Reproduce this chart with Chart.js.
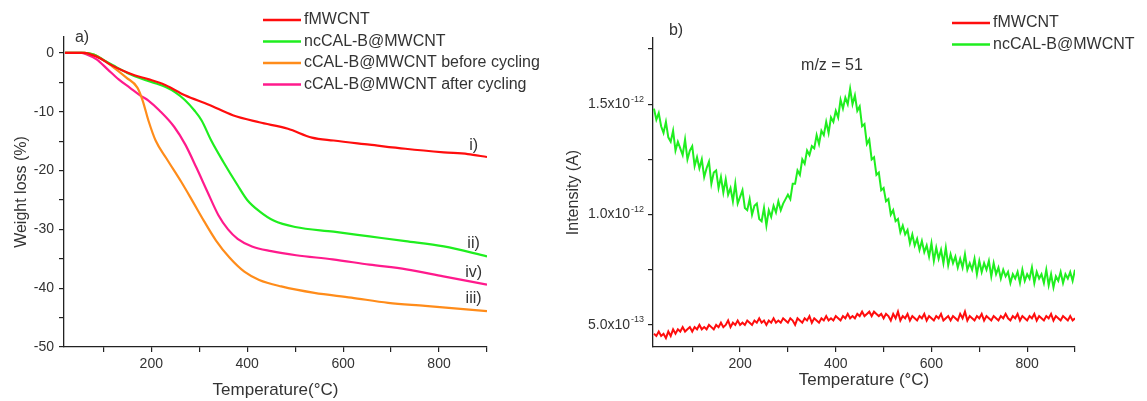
<!DOCTYPE html>
<html lang="en">
<head>
<meta charset="UTF-8">
<title>TGA / MS</title>
<script src="https://cdn.jsdelivr.net/npm/chart.js"></script>
<style>
  body { margin: 0; background: #fff; }
  #wrap { position: relative; width: 1147px; height: 401px; }
  canvas { position: absolute; top: 0; }
  #tgaChart { left: 0; }
  #msChart { left: 555px; }
</style>
</head>
<body>
<div id="wrap">
<canvas id="tgaChart" width="555" height="401"></canvas>
<canvas id="msChart" width="592" height="401"></canvas>
</div>
<script>
// ---- panel a) weight loss (%) vs temperature
const tRed = [20, 60, 75, 95, 115, 140, 165, 195, 230, 270, 320, 370, 425, 485, 535, 580, 655, 730, 810, 860, 900];
const wRed = [0, 0, -0.3, -1.0, -2.0, -3.0, -3.8, -4.5, -5.5, -7.2, -8.8, -10.6, -11.8, -12.9, -14.4, -14.9, -15.6, -16.3, -16.9, -17.2, -17.7];

const tGreen = [20, 60, 80, 100, 120, 150, 180, 210, 230, 250, 270, 290, 305, 325, 350, 380, 400, 425, 455, 500, 580, 655, 730, 810, 900];
const wGreen = [0, 0, -0.3, -1.2, -2.1, -3.4, -4.4, -5.2, -5.8, -6.7, -8.0, -9.8, -11.5, -14.9, -18.5, -22.5, -25.0, -26.9, -28.5, -29.6, -30.4, -31.2, -32.0, -32.9, -34.6];

const tOrange = [20, 60, 80, 100, 117, 148, 171, 182, 194, 209, 232, 263, 286, 310, 335, 363, 394, 425, 471, 540, 617, 694, 771, 900];
const wOrange = [0, 0, -0.3, -1.2, -2.2, -4.2, -5.9, -8.1, -11.5, -14.9, -18.0, -22.0, -25.2, -28.6, -31.9, -34.8, -37.2, -38.6, -39.7, -40.8, -41.6, -42.5, -43.0, -43.9];

const tPink = [20, 55, 63, 86, 109, 132, 155, 178, 194, 217, 248, 271, 294, 317, 340, 360, 380, 410, 450, 502, 578, 655, 732, 809, 900];
const wPink = [0, 0, -0.2, -1.1, -2.8, -4.5, -5.9, -7.3, -8.1, -9.8, -12.6, -15.6, -19.5, -23.6, -27.6, -30.0, -31.6, -32.9, -33.7, -34.4, -35.1, -36.0, -36.8, -38.0, -39.4];

const namesA = ['fMWCNT', 'ncCAL-B@MWCNT', 'cCAL-B@MWCNT before cycling', 'cCAL-B@MWCNT after cycling'];
const tagsA = ['i)', 'ii)', 'iii)', 'iv)'];
const tagW = [-15.8, -32.4, -41.7, -37.3];
const tagT = 872;

// ---- panel b) m/z = 51 intensity (x1e-12 A) vs temperature
const tempsB = [
  20, 25, 30, 35, 40, 45, 50, 55, 60, 65,
  70, 75, 80, 85, 90, 95, 100, 105, 110, 115,
  120, 125, 130, 135, 140, 145, 150, 155, 160, 165,
  170, 175, 180, 185, 190, 195, 200, 205, 210, 215,
  220, 225, 230, 235, 240, 245, 250, 255, 260, 265,
  270, 275, 280, 285, 290, 295, 300, 305, 310, 315,
  320, 325, 330, 335, 340, 345, 350, 355, 360, 365,
  370, 375, 380, 385, 390, 395, 400, 405, 410, 415,
  420, 425, 430, 435, 440, 445, 450, 455, 460, 465,
  470, 475, 480, 485, 490, 495, 500, 505, 510, 515,
  520, 525, 530, 535, 540, 545, 550, 555, 560, 565,
  570, 575, 580, 585, 590, 595, 600, 605, 610, 615,
  620, 625, 630, 635, 640, 645, 650, 655, 660, 665,
  670, 675, 680, 685, 690, 695, 700, 705, 710, 715,
  720, 725, 730, 735, 740, 745, 750, 755, 760, 765,
  770, 775, 780, 785, 790, 795, 800, 805, 810, 815,
  820, 825, 830, 835, 840, 845, 850, 855, 860, 865,
  870, 875, 880, 885, 890, 895, 900
];
const msGreen = [
  1.48, 1.43, 1.46, 1.40, 1.37, 1.42, 1.35, 1.33, 1.38, 1.29,
  1.33, 1.30, 1.27, 1.34, 1.25, 1.29, 1.31, 1.22, 1.26, 1.21,
  1.25, 1.17, 1.21, 1.24, 1.14, 1.19, 1.20, 1.12, 1.17, 1.10,
  1.16, 1.09, 1.12, 1.06, 1.14, 1.05, 1.08, 1.11, 1.03, 1.02,
  1.07, 1.00, 1.04, 1.05, 0.98, 0.97, 1.03, 0.95, 1.02, 0.99,
  1.04, 1.01, 1.06, 1.02, 1.05, 1.07, 1.09, 1.07, 1.14, 1.14,
  1.20, 1.18, 1.25, 1.23, 1.29, 1.27, 1.31, 1.30, 1.36, 1.32,
  1.38, 1.36, 1.42, 1.37, 1.44, 1.42, 1.47, 1.44, 1.52, 1.48,
  1.53, 1.50, 1.57, 1.50, 1.54, 1.47, 1.49, 1.40, 1.41, 1.32,
  1.34, 1.25, 1.26, 1.18, 1.19, 1.11, 1.12, 1.06, 1.07, 1.00,
  1.02, 0.97, 0.98, 0.92, 0.95, 0.91, 0.93, 0.87, 0.91, 0.86,
  0.89, 0.84, 0.88, 0.83, 0.86, 0.81, 0.87, 0.79, 0.85, 0.80,
  0.84, 0.78, 0.85, 0.77, 0.82, 0.78, 0.81, 0.76, 0.80, 0.76,
  0.82, 0.75, 0.78, 0.75, 0.80, 0.73, 0.79, 0.74, 0.78, 0.75,
  0.79, 0.72, 0.78, 0.73, 0.76, 0.71, 0.75, 0.72, 0.74, 0.69,
  0.73, 0.71, 0.74, 0.69, 0.75, 0.70, 0.73, 0.71, 0.76, 0.69,
  0.74, 0.71, 0.73, 0.69, 0.75, 0.68, 0.73, 0.67, 0.72, 0.70,
  0.74, 0.69, 0.73, 0.71, 0.74, 0.70, 0.75
];
const msRed = [
  0.46, 0.45, 0.47, 0.45, 0.46, 0.44, 0.47, 0.45, 0.48, 0.46,
  0.48, 0.47, 0.49, 0.47, 0.48, 0.49, 0.47, 0.49, 0.48, 0.50,
  0.48, 0.49, 0.48, 0.50, 0.49, 0.48, 0.50, 0.49, 0.51, 0.49,
  0.50, 0.52, 0.49, 0.51, 0.50, 0.52, 0.50, 0.51, 0.50, 0.52,
  0.51, 0.50, 0.52, 0.51, 0.53, 0.51, 0.52, 0.50, 0.52, 0.51,
  0.53, 0.51, 0.52, 0.51, 0.53, 0.52, 0.51, 0.53, 0.52, 0.50,
  0.53, 0.52, 0.51, 0.53, 0.52, 0.54, 0.51, 0.53, 0.52, 0.51,
  0.53, 0.52, 0.54, 0.52, 0.53, 0.52, 0.54, 0.53, 0.52, 0.54,
  0.53, 0.55, 0.53, 0.54, 0.53, 0.55, 0.54, 0.56, 0.54, 0.55,
  0.56, 0.54, 0.56, 0.55, 0.54, 0.55, 0.53, 0.55, 0.54, 0.52,
  0.55, 0.53, 0.56, 0.52, 0.54, 0.53, 0.55, 0.52, 0.54, 0.53,
  0.52, 0.54, 0.53, 0.55, 0.52, 0.54, 0.53, 0.52, 0.54, 0.53,
  0.55, 0.52, 0.53, 0.54, 0.52, 0.54, 0.53, 0.52, 0.55, 0.53,
  0.56, 0.52, 0.54, 0.53, 0.52, 0.54, 0.53, 0.55, 0.52, 0.54,
  0.53, 0.52, 0.54, 0.53, 0.52, 0.54, 0.53, 0.55, 0.53, 0.52,
  0.54, 0.53, 0.55, 0.52, 0.54, 0.53, 0.52, 0.54, 0.53, 0.55,
  0.52, 0.54, 0.53, 0.52, 0.54, 0.53, 0.55, 0.52, 0.54, 0.53,
  0.52, 0.54, 0.53, 0.52, 0.54, 0.52, 0.53
];
const namesB = ['fMWCNT', 'ncCAL-B@MWCNT'];

const tempTicks = [100, 200, 300, 400, 500, 600, 700, 800, 900];
const weightTicks = [-50, -45, -40, -35, -30, -25, -20, -15, -10, -5, 0];
const msTicks = [0.5, 0.75, 1.0, 1.25, 1.5, 1.75];
const msTickText = { 0.5: ['5.0x10', '-13'], 1.0: ['1.0x10', '-12'], 1.5: ['1.5x10', '-12'] };

const RED = '#ff0d0d', GREEN = '#1fee1f', ORANGE = '#ff8c1a', PINK = '#ff1a8c';
const INK = '#333', AXIS = '#222';
const FONT = '"Liberation Sans", Arial, sans-serif';
Chart.defaults.font.family = FONT;
Chart.defaults.color = INK;

const pts = (xs, ys) => xs.map((x, i) => ({ x: x, y: ys[i] }));

function tempAxis(title, titlePad) {
  return {
    type: 'linear', min: 18, max: 900,
    afterFit: s => { s.height = 54; },
    afterBuildTicks: s => { s.ticks = tempTicks.map(v => ({ value: v })); },
    ticks: { callback: v => (v % 200 === 0 && v < 900 ? v : ''), autoSkip: false, maxRotation: 0, padding: 4, font: { size: 14 }, color: INK },
    grid: { drawOnChartArea: false, tickLength: 5, color: AXIS, lineWidth: 1.2 },
    border: { color: AXIS, width: 1.3 },
    title: { display: true, text: title, font: { size: 17 }, color: INK, padding: { top: 0, bottom: titlePad } }
  };
}

function drawLegend(ctx, names, colors, x0, y0, dy) {
  ctx.font = '16px ' + FONT;
  ctx.textAlign = 'left';
  ctx.textBaseline = 'middle';
  names.forEach((n, i) => {
    const y = y0 + i * dy;
    ctx.strokeStyle = colors[i];
    ctx.lineWidth = 2.5;
    ctx.beginPath();
    ctx.moveTo(x0, y);
    ctx.lineTo(x0 + 38, y);
    ctx.stroke();
    ctx.fillStyle = INK;
    ctx.fillText(n, x0 + 41, y);
  });
}

const notesA = {
  id: 'notesA',
  afterDraw(chart) {
    const ctx = chart.ctx, xs = chart.scales.x, ys = chart.scales.y;
    ctx.save();
    ctx.fillStyle = INK;
    ctx.font = '16px ' + FONT;
    ctx.textAlign = 'center';
    ctx.textBaseline = 'middle';
    tagsA.forEach((t, i) => ctx.fillText(t, xs.getPixelForValue(tagT), ys.getPixelForValue(tagW[i])));
    ctx.fillText('a)', 82, 38);
    drawLegend(ctx, namesA, [RED, GREEN, ORANGE, PINK], 263, 20, 21.5);
    ctx.restore();
  }
};

const notesB = {
  id: 'notesB',
  afterDraw(chart) {
    const ctx = chart.ctx, ys = chart.scales.y;
    ctx.save();
    ctx.fillStyle = INK;
    ctx.textBaseline = 'middle';
    // y tick labels with superscript exponent
    const xr = ys.right - 9;
    Object.keys(msTickText).forEach(k => {
      const y = ys.getPixelForValue(Number(k));
      const [m, e] = msTickText[k];
      ctx.font = '9px ' + FONT;
      ctx.textAlign = 'right';
      ctx.fillText(e, xr, y - 5);
      const ew = ctx.measureText(e).width;
      ctx.font = '14px ' + FONT;
      ctx.fillText(m, xr - ew - 1, y);
    });
    ctx.font = '16px ' + FONT;
    ctx.textAlign = 'center';
    ctx.fillText('b)', 121, 31);
    ctx.fillText('m/z = 51', 277, 66);
    drawLegend(ctx, namesB, [RED, GREEN], 397, 23, 21.5);
    ctx.restore();
  }
};

new Chart(document.getElementById('tgaChart'), {
  type: 'line',
  data: {
    datasets: [
      { label: namesA[0], data: pts(tRed, wRed), borderColor: RED },
      { label: namesA[1], data: pts(tGreen, wGreen), borderColor: GREEN },
      { label: namesA[2], data: pts(tOrange, wOrange), borderColor: ORANGE },
      { label: namesA[3], data: pts(tPink, wPink), borderColor: PINK }
    ]
  },
  options: {
    responsive: false,
    animation: false,
    layout: { padding: { left: 0, top: 37, right: 68, bottom: 0 } },
    elements: { point: { radius: 0 }, line: { borderWidth: 2.2, cubicInterpolationMode: 'monotone' } },
    plugins: { legend: { display: false }, tooltip: { enabled: false } },
    scales: {
      x: tempAxis('Temperature(°C)', 0),
      y: {
        type: 'linear', min: -50, max: 2.7,
        afterFit: s => { s.width = 64; },
        afterBuildTicks: s => { s.ticks = weightTicks.map(v => ({ value: v })); },
        ticks: { callback: v => (v % 10 === 0 ? v : ''), autoSkip: false, padding: 5, font: { size: 14 }, color: INK },
        grid: { drawOnChartArea: false, tickLength: 5, color: AXIS, lineWidth: 1.2 },
        border: { color: AXIS, width: 1.3 },
        title: { display: true, text: 'Weight loss (%)', font: { size: 16 }, color: INK, padding: { top: 12, bottom: 0 } }
      }
    }
  },
  plugins: [notesA]
});

new Chart(document.getElementById('msChart'), {
  type: 'line',
  data: {
    datasets: [
      { label: namesB[0], data: pts(tempsB, msRed), borderColor: RED },
      { label: namesB[1], data: pts(tempsB, msGreen), borderColor: GREEN }
    ]
  },
  options: {
    responsive: false,
    animation: false,
    layout: { padding: { left: 0, top: 38, right: 72, bottom: 0 } },
    elements: { point: { radius: 0 }, line: { borderWidth: 2, tension: 0 } },
    plugins: { legend: { display: false }, tooltip: { enabled: false } },
    scales: {
      x: tempAxis('Temperature (°C)', 10),
      y: {
        type: 'linear', min: 0.4, max: 1.8,
        afterFit: s => { s.width = 98; },
        afterBuildTicks: s => { s.ticks = msTicks.map(v => ({ value: v })); },
        ticks: { callback: () => '', autoSkip: false },
        grid: { drawOnChartArea: false, tickLength: 5, color: AXIS, lineWidth: 1.2 },
        border: { color: AXIS, width: 1.3 },
        title: { display: true, text: 'Intensity (A)', font: { size: 16 }, color: INK, padding: { top: 9, bottom: 0 } }
      }
    }
  },
  plugins: [notesB]
});
</script>
</body>
</html>
